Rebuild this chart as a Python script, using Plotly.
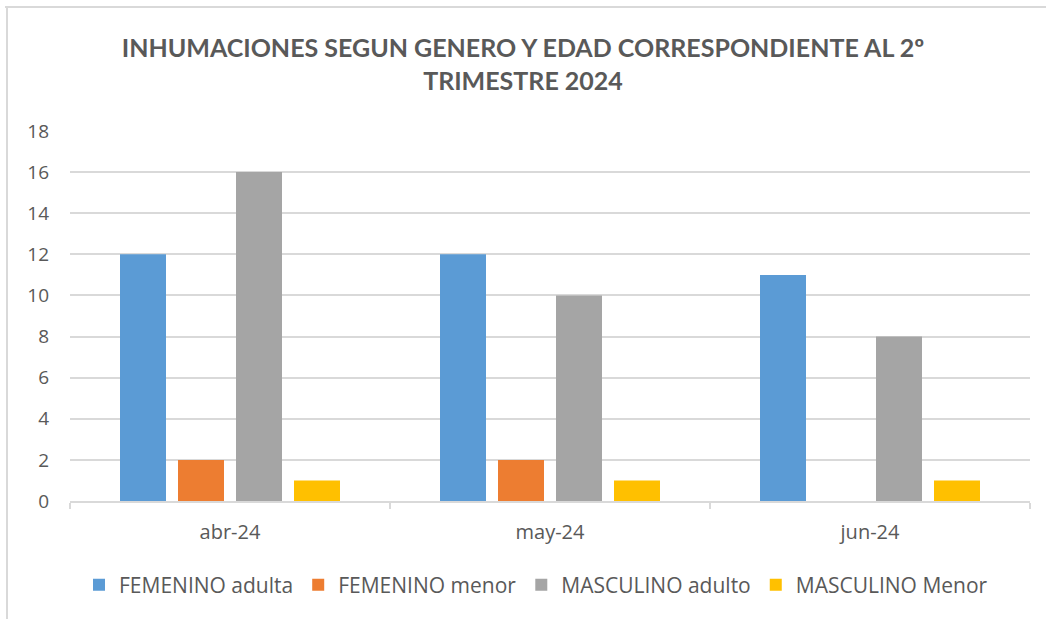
import plotly.graph_objects as go

months = ["abr-24", "may-24", "jun-24"]
fem_adulta = [12, 12, 11]
fem_menor = [2, 2, 0]
masc_adulto = [16, 10, 8]
masc_menor = [1, 1, 1]

series = [
    ("FEMENINO adulta", fem_adulta, "#5B9BD5"),
    ("FEMENINO menor", fem_menor, "#ED7D31"),
    ("MASCULINO adulto", masc_adulto, "#A5A5A5"),
    ("MASCULINO Menor", masc_menor, "#FFC000"),
]

W, H = 1046, 619
L, R, T, B = 70, 16, 131, 118

fig = go.Figure()
for name, vals, col in series:
    fig.add_trace(go.Bar(name=name, x=months, y=vals, marker_color=col,
                         marker_line_width=0))

pw = W - L - R
ph = H - T - B

def px2paper_x(px):
    return (px - L) / pw

def px2paper_y(py):
    return (H - B - py) / ph

TXT = "#595959"
fig.update_layout(
    width=W, height=H,
    margin=dict(l=L, r=R, t=T, b=B),
    paper_bgcolor="white", plot_bgcolor="white",
    barmode="group", bargap=0.275, bargroupgap=0.207,
    font=dict(family="Open Sans, sans-serif", color=TXT, size=19),
    title=dict(
        text="<b>INHUMACIONES SEGUN GENERO Y EDAD CORRESPONDIENTE AL 2º<br>TRIMESTRE 2024</b>",
        x=0.5, xanchor="center", y=1 - 57 / H, yanchor="middle",
        font=dict(family="Lato, sans-serif", size=25, color=TXT),
    ),
    legend=dict(orientation="h", x=px2paper_x(536), xanchor="center",
                y=px2paper_y(585), yanchor="middle",
                font=dict(size=21, color=TXT),
                itemsizing="constant", traceorder="normal"),
    xaxis=dict(showline=True, linecolor="#d9d9d9", linewidth=1.5,
               ticks="outside", tickson="boundaries", ticklen=6,
               tickcolor="#d9d9d9", tickwidth=1.5,
               tickfont=dict(size=20, color=TXT), showgrid=False,
               ticklabelstandoff=12),
    yaxis=dict(range=[0, 18], dtick=2, showgrid=True, gridcolor="#d9d9d9",
               gridwidth=1.5, zeroline=False, showline=False,
               tickfont=dict(size=19, color=TXT), ticks="",
               ticklabelstandoff=20),
    shapes=[
        dict(type="line", xref="paper", yref="paper",
             x0=px2paper_x(5), x1=px2paper_x(1060),
             y0=px2paper_y(7), y1=px2paper_y(7),
             line=dict(color="#d9d9d9", width=2)),
        dict(type="line", xref="paper", yref="paper",
             x0=px2paper_x(7), x1=px2paper_x(7),
             y0=px2paper_y(7), y1=px2paper_y(630),
             line=dict(color="#d9d9d9", width=2)),
    ],
)

fig.write_html("out.html", config={"displayModeBar": False},
               post_script="document.body.style.margin='0';")
